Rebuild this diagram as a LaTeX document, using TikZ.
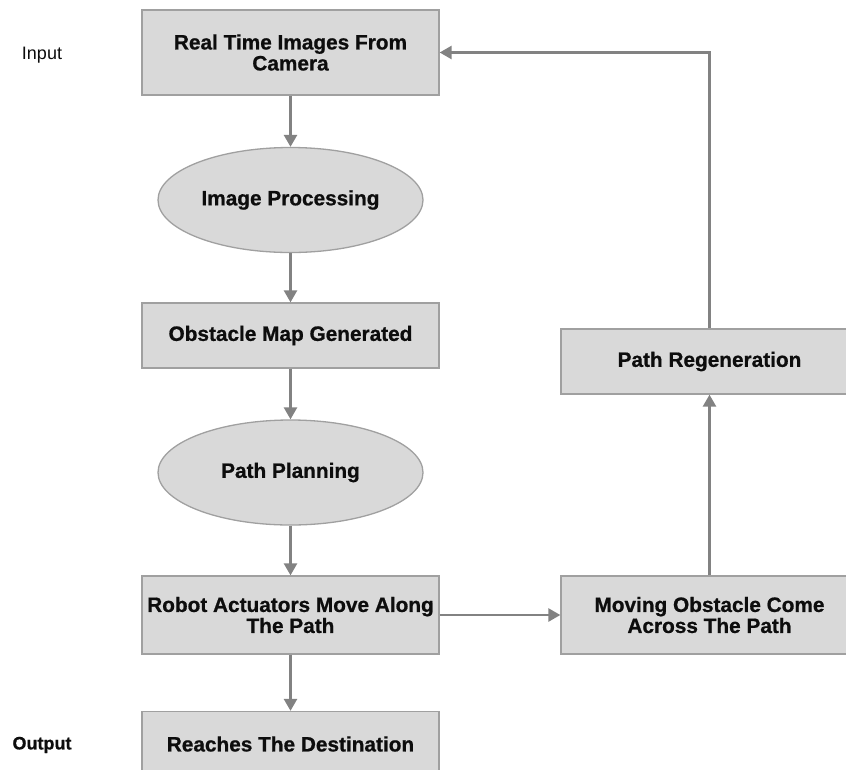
\documentclass[tikz,border=0pt]{standalone}
\usepackage{fontspec}
\setmainfont{Liberation Sans}[BoldFeatures={FakeBold=0.8}]
\usetikzlibrary{shapes.geometric,arrows.meta}
\definecolor{boxfill}{HTML}{D9D9D9}
\definecolor{boxline}{HTML}{A0A0A0}
\definecolor{arrowc}{HTML}{828282}
\definecolor{txt}{HTML}{0D0D0D}
\tikzset{
  box/.style={draw=boxline, fill=boxfill, line width=1.3pt, rectangle, inner sep=0pt,
    minimum width=297pt, align=center, text=txt,
    font=\fontsize{20.8}{21}\selectfont\bfseries},
  oval/.style={draw=boxline, fill=boxfill, line width=1.3pt, ellipse, inner sep=0pt,
    minimum width=265pt, minimum height=105pt, align=center, text=txt,
    font=\fontsize{20.8}{21}\selectfont\bfseries},
  conn/.style={draw=arrowc, line width=2.6pt, -{Triangle[length=12pt,width=13pt]}},
  side/.style={text=txt, font=\fontsize{18}{20}\selectfont}
}
\begin{document}
\begin{tikzpicture}[x=1pt,y=-1pt]
\useasboundingbox (0,0) rectangle (846,769);
\clip (0,0) rectangle (846,769);
\node[box, minimum height=85pt] (cam) at (290.5,52.5) {Real Time Images From\\Camera};
\node[oval] (imgp) at (290.5,200) {Image Processing};
\node[box, minimum height=65pt] (obs) at (290.5,335.5) {Obstacle Map Generated};
\node[oval] (plan) at (290.5,472.5) {Path Planning};
\node[box, minimum height=78pt] (robot) at (290.5,615) {Robot Actuators Move Along\\The Path};
\node[box, minimum height=65pt] (dest) at (290.5,744) {Reaches The Destination};
\node[box, minimum height=78pt] (move) at (709.5,615) {Moving Obstacle Come\\Across The Path};
\node[box, minimum height=65pt] (regen) at (709.5,361.5) {Path Regeneration};
\node[side] (inlab) at (42,55) {Input};
\node[side, font=\fontsize{18}{20}\selectfont\bfseries] (outlab) at (42,745) {Output};
\draw[conn] (cam) -- (imgp);
\draw[conn] (imgp) -- (obs);
\draw[conn] (obs) -- (plan);
\draw[conn] (plan) -- (robot);
\draw[conn] (robot) -- (dest);
\draw[conn] (robot) -- (move);
\draw[conn] (move) -- (regen);
\draw[conn] (regen.north) |- (cam.east);
\end{tikzpicture}
\end{document}
